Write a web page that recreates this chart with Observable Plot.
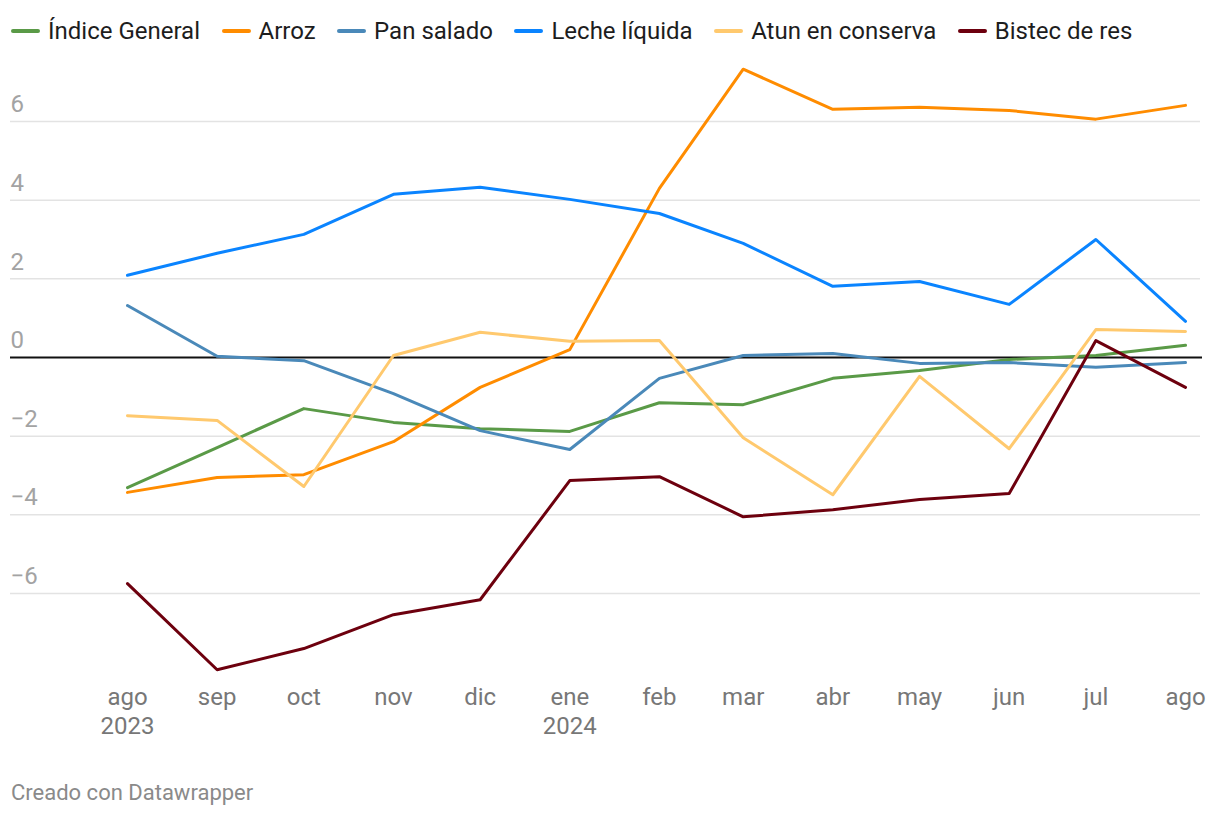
<!DOCTYPE html>
<html>
<head>
<meta charset="utf-8">
<script src="https://cdn.jsdelivr.net/npm/d3@7"></script>
<script src="https://cdn.jsdelivr.net/npm/@observablehq/plot@0.6"></script>
<style>
  html, body { margin: 0; padding: 0; background: #fff; }
  body { width: 1220px; height: 816px; position: relative; font-family: Roboto, "Noto Sans", sans-serif; }
  #legend { position: absolute; left: 11px; top: 14px; height: 34px; display: flex; align-items: center; font-size: 24px; color: #1d1d1d; white-space: nowrap; }
  .item { display: flex; align-items: center; margin-right: 21.5px; }
  .sw { display: inline-block; width: 29px; height: 4px; border-radius: 2px; margin-right: 8px; }
  #chart { position: absolute; left: 0; top: 50px; }
  #caption { position: absolute; left: 11px; top: 780px; font-size: 22px; line-height: 26px; color: #8a8a8a; }
</style>
</head>
<body>
<div id="legend"></div>
<div id="chart"></div>
<div id="caption">Creado con Datawrapper</div>
<script>
const months = ["2023-08-01","2023-09-01","2023-10-01","2023-11-01","2023-12-01","2024-01-01","2024-02-01","2024-03-01","2024-04-01","2024-05-01","2024-06-01","2024-07-01","2024-08-01"];
const monthLabels = ["ago\n2023","sep","oct","nov","dic","ene\n2024","feb","mar","abr","may","jun","jul","ago"];
const seriesNames = ["Índice General","Arroz","Pan salado","Leche líquida","Atun en conserva","Bistec de res"];
const seriesColors = ["#5a9a47","#ff8c00","#4a89b9","#0a84ff","#ffc96e","#6d000e"];
const yTicks = [-6,-4,-2,0,2,4,6];

const indiceGeneral = [-3.31,-2.29,-1.30,-1.65,-1.81,-1.88,-1.15,-1.20,-0.53,-0.33,-0.05,0.05,0.31];
const arroz         = [-3.43,-3.05,-2.98,-2.14,-0.76,0.20,4.30,7.33,6.31,6.36,6.28,6.06,6.41];
const panSalado     = [1.32,0.03,-0.08,-0.92,-1.86,-2.34,-0.53,0.05,0.10,-0.15,-0.13,-0.25,-0.13];
const lecheLiquida  = [2.09,2.65,3.13,4.15,4.33,4.02,3.66,2.90,1.81,1.93,1.35,3.00,0.92];
const atunConserva  = [-1.48,-1.60,-3.28,0.05,0.64,0.41,0.43,-2.04,-3.49,-0.48,-2.32,0.71,0.66];
const bistecRes     = [-5.75,-7.94,-7.40,-6.54,-6.16,-3.13,-3.03,-4.05,-3.87,-3.61,-3.46,0.43,-0.76];

const seriesValues = [indiceGeneral, arroz, panSalado, lecheLiquida, atunConserva, bistecRes];
const dates = months.map(d => new Date(d + "T00:00:00Z"));
const data = [];
seriesNames.forEach((name, i) => {
  seriesValues[i].forEach((v, j) => data.push({series: name, date: dates[j], value: v}));
});
const labelData = dates.map((d, i) => ({date: d, label: monthLabels[i]}));
const fmt = v => v < 0 ? "\u2212" + Math.abs(v) : String(v);

// legend
const legend = document.getElementById("legend");
seriesNames.forEach((n, i) => {
  const it = document.createElement("div");
  it.className = "item";
  it.innerHTML = `<span class="sw" style="background:${seriesColors[i]}"></span><span>${n}</span>`;
  legend.appendChild(it);
});

const chart = Plot.plot({
  width: 1220,
  height: 700,
  marginLeft: 127,
  marginRight: 35,
  marginTop: 12,
  marginBottom: 70.5,
  style: {fontFamily: "Roboto, sans-serif", fontSize: "24px", background: "#fff"},
  x: {type: "utc", domain: [dates[0], dates[dates.length - 1]], axis: null},
  y: {domain: [-8.2, 7.5], axis: null},
  color: {domain: seriesNames, range: seriesColors},
  marks: [
    Plot.ruleY(yTicks.filter(d => d !== 0), {stroke: "#e3e3e3", strokeWidth: 1.5, insetLeft: -117, insetRight: -15}),
    Plot.text(yTicks, {y: d => d, text: fmt, frameAnchor: "left", dx: -117, dy: -17, textAnchor: "start", lineAnchor: "middle", fill: "#a3a3a3", fontSize: 24}),
    Plot.ruleY([0], {stroke: "#111", strokeWidth: 2, insetLeft: -117, insetRight: -17}),
    Plot.line(data, {x: "date", y: "value", z: "series", stroke: "series", strokeWidth: 3, strokeLinejoin: "round", strokeLinecap: "round"}),
    Plot.text(labelData, {x: "date", text: "label", frameAnchor: "bottom", lineAnchor: "top", dy: 4.5, lineHeight: 1.2, fill: "#777", fontSize: 24, textAnchor: "middle"})
  ]
});
document.getElementById("chart").appendChild(chart);
</script>
</body>
</html>
